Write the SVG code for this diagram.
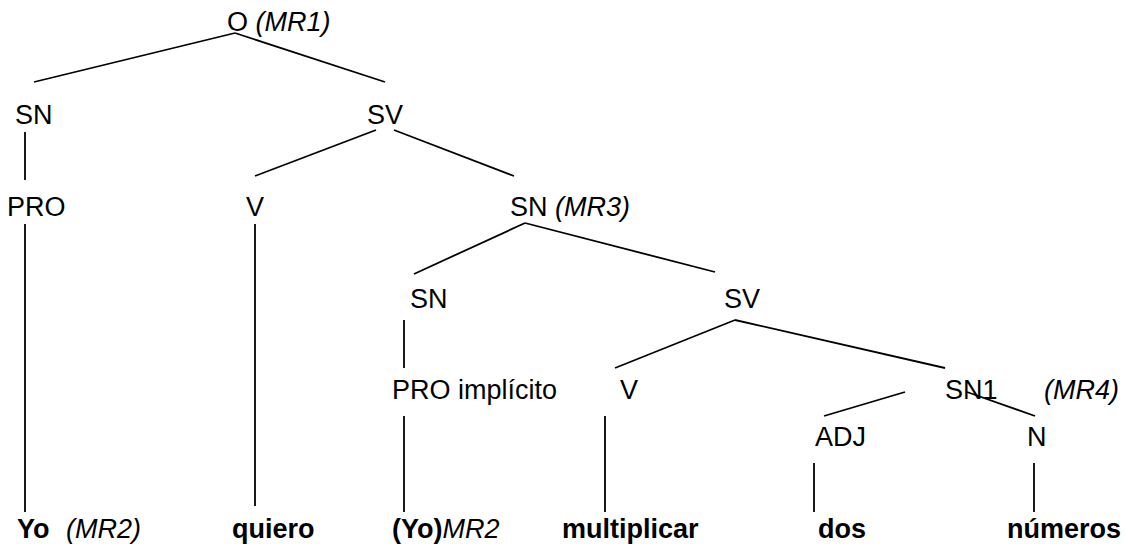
<svg xmlns="http://www.w3.org/2000/svg" width="1125" height="544" viewBox="0 0 1125 544">
<style>
text{font-family:"Liberation Sans",Arial,sans-serif;font-size:27px;fill:#000}
.it{font-style:italic}
.b{font-weight:bold}
#connectors line{stroke:#000;stroke-width:1.8;fill:none}
</style>
<rect width="1125" height="544" fill="#fff"/>
<g id="connectors">
<line x1="34" y1="82" x2="235" y2="33"/>
<line x1="235" y1="33" x2="385" y2="82"/>
<line x1="25" y1="132" x2="25" y2="180"/>
<line x1="376" y1="130" x2="255" y2="176"/>
<line x1="394" y1="130" x2="514" y2="176"/>
<line x1="25" y1="224" x2="25" y2="512"/>
<line x1="255" y1="224" x2="255" y2="506"/>
<line x1="525" y1="223" x2="414" y2="274"/>
<line x1="525" y1="223" x2="715" y2="272"/>
<line x1="404" y1="320" x2="404" y2="368"/>
<line x1="735" y1="320" x2="615" y2="368"/>
<line x1="735" y1="320" x2="945" y2="368"/>
<line x1="404" y1="416" x2="404" y2="512"/>
<line x1="605" y1="416" x2="605" y2="512"/>
<line x1="905" y1="392" x2="824" y2="416"/>
<line x1="967" y1="392" x2="1035" y2="416"/>
<line x1="814" y1="463" x2="814" y2="512"/>
<line x1="1034" y1="463" x2="1034" y2="512"/>
</g>
<g id="n-O"><text x="227" y="31">O <tspan class="it">(MR1)</tspan></text></g>
<g id="n-SN1"><text x="15" y="124">SN</text></g>
<g id="n-SV1"><text x="367" y="124">SV</text></g>
<g id="n-PRO"><text x="7" y="216">PRO</text></g>
<g id="n-V1"><text x="246" y="216">V</text></g>
<g id="n-SN2"><text x="510" y="216">SN <tspan class="it">(MR3)</tspan></text></g>
<g id="n-SN3"><text x="410" y="308">SN</text></g>
<g id="n-SV2"><text x="724" y="308">SV</text></g>
<g id="n-PROimp"><text x="392" y="399">PRO implícito</text></g>
<g id="n-V2"><text x="620" y="399">V</text></g>
<g id="n-SN4"><text x="945" y="399">SN1</text><text class="it" x="1044" y="399">(MR4)</text></g>
<g id="n-ADJ"><text x="815" y="446">ADJ</text></g>
<g id="n-N"><text x="1027" y="446">N</text></g>
<g id="w-yo"><text class="b" x="17" y="538">Yo</text><text class="it" x="66" y="538">(MR2)</text></g>
<g id="w-quiero"><text class="b" x="232" y="538">quiero</text></g>
<g id="w-yo2"><text x="392" y="538"><tspan class="b">(Yo)</tspan><tspan class="it">MR2</tspan></text></g>
<g id="w-mult"><text class="b" x="562" y="538">multiplicar</text></g>
<g id="w-dos"><text class="b" x="818" y="538">dos</text></g>
<g id="w-num"><text class="b" x="1007" y="538">números</text></g>
</svg>
